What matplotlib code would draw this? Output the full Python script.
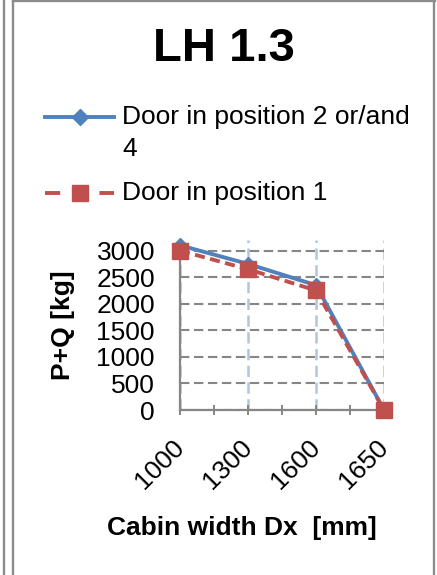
import matplotlib

matplotlib.use("Agg")
import matplotlib.pyplot as plt
from matplotlib.lines import Line2D

plt.rcParams["font.family"] = ["Liberation Sans", "DejaVu Sans"]

# --- data ---
categories = ["1000", "1300", "1600", "1650"]
door_2_or_4 = [3100, 2750, 2350, 0]
door_1 = [3000, 2650, 2250, 0]
y_ticks = [0, 500, 1000, 1500, 2000, 2500, 3000]

BLUE = "#4F81BD"
RED = "#C0504D"
GRID_GRAY = "#868686"
GRID_BLUE = "#AFC6E3"
AXIS_GRAY = "#868686"
FRAME_GRAY = "#8C8C8C"

W, H = 437, 575
FS = 19


def fx(px):
    return px / W


def fy(py):
    return 1 - py / H


fig = plt.figure(figsize=(W / 100, H / 100), dpi=100)

# outer frame lines (chart border as in the screenshot)
for xs, ys in [((4, 4), (0, H)), ((13, 13), (0, H)), ((13, 435), (1, 1)), ((434, 434), (0, H))]:
    fig.add_artist(Line2D([fx(v) for v in xs], [fy(v) for v in ys],
                          transform=fig.transFigure, color=FRAME_GRAY, lw=1.7))

ax = fig.add_axes([fx(180), fy(410), (384 - 180) / W, (410 - 240) / H])
x = list(range(len(categories)))

ax.plot(x, door_2_or_4, color=BLUE, lw=2.8, marker="D", ms=7,
        clip_on=False, zorder=3, label="Door in position 2 or/and\n4")
ax.plot(x, door_1, color=RED, lw=2.8, ls=(0, (2.6, 1.4)), marker="s", ms=11,
        clip_on=False, zorder=4, label="Door in position 1")

ax.set_xlim(0, len(categories) - 1)
ax.set_ylim(0, 3200)
ax.set_yticks(y_ticks)
ax.set_xticks(x)
ax.set_xticks([i + 0.5 for i in x[:-1]], minor=True)
ax.set_xticklabels(categories, rotation=45, ha="right", va="center",
                   rotation_mode="anchor")

ax.tick_params(axis="y", length=0, pad=18, labelsize=FS)
ax.tick_params(axis="x", which="both", direction="inout", length=7,
               width=1.4, color=AXIS_GRAY)
ax.tick_params(axis="x", which="major", pad=21, labelsize=FS)

ax.set_axisbelow(True)
ax.yaxis.grid(True, color=GRID_GRAY, ls=(0, (4.5, 2.2)), lw=1.5)
ax.xaxis.grid(True, color=GRID_BLUE, ls=(0, (4.5, 2.2)), lw=1.8)

for side in ["top", "right"]:
    ax.spines[side].set_visible(False)
for side in ["left", "bottom"]:
    ax.spines[side].set_color(AXIS_GRAY)
    ax.spines[side].set_linewidth(1.6)

# title and axis titles
fig.text(fx(224), fy(49), "LH 1.3", ha="center", va="center",
         fontsize=34, fontweight="bold")
fig.text(fx(63), fy(325), "P+Q [kg]", ha="center", va="center",
         rotation=90, fontsize=FS, fontweight="bold")
fig.text(fx(242), fy(528), "Cabin width Dx  [mm]", ha="center", va="center",
         fontsize=FS, fontweight="bold")

# legend (handles aligned with first line of the label, as Excel does)
lines = ax.get_lines()
legend_dashes = ["-", (0, (3.9, 3.1))]
for line, y_px, ls in zip(lines, [117, 193], legend_dashes):
    fig.add_artist(Line2D([fx(45), fx(114)], [fy(y_px), fy(y_px)],
                          transform=fig.transFigure, color=line.get_color(),
                          lw=line.get_linewidth(), ls=ls))
    fig.add_artist(Line2D([fx(80)], [fy(y_px)], transform=fig.transFigure,
                          marker=line.get_marker(), ms=line.get_markersize() + 1,
                          color=line.get_color(), ls="none"))
fig.text(fx(122), fy(105), lines[0].get_label(), ha="left", va="top",
         fontsize=FS, linespacing=1.42)
fig.text(fx(122), fy(193), lines[1].get_label(), ha="left", va="center",
         fontsize=FS)

fig.savefig("out.png", dpi=100)
